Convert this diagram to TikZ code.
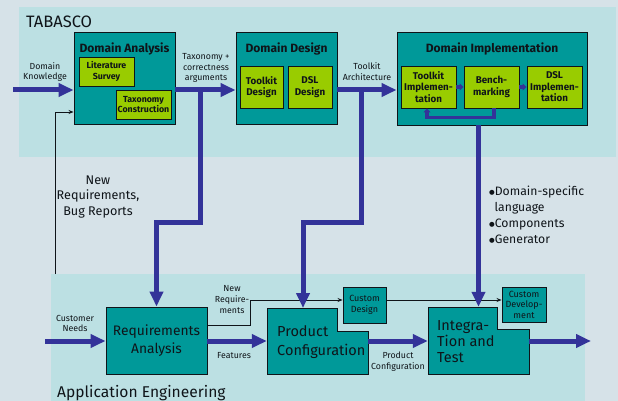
\documentclass[tikz,border=0pt]{standalone}
\usepackage{fontspec}
\setmainfont{Fira Sans}
\newfontfamily\djv{DejaVu Sans}
\usetikzlibrary{arrows.meta,calc}
\definecolor{bgc}{RGB}{214,226,232}
\definecolor{panelc}{RGB}{188,224,227}
\definecolor{tealc}{RGB}{0,153,153}
\definecolor{limec}{RGB}{153,204,0}
\definecolor{bluec}{RGB}{51,51,153}
\definecolor{inkc}{RGB}{15,20,25}
\newcommand{\bul}{\raisebox{0.6pt}{\djv\fontsize{6.5}{6.5}\selectfont●}}
\tikzset{
  tealbox/.style={draw=inkc, fill=tealc, line width=0.9pt, inner sep=0pt},
  limebox/.style={draw=inkc, fill=limec, line width=0.9pt, inner sep=0pt, align=center, text=inkc},
  bigarrow/.style={draw=bluec, line width=5pt, -{Triangle[width=13pt,length=15pt]}},
  smallarrow/.style={draw=bluec, line width=3.5pt, -{Triangle[width=7pt,length=4pt]}},
  thinarrow/.style={draw=inkc, line width=0.8pt, -{Stealth[length=5pt,width=4pt]}},
  lbl/.style={align=center, text=inkc, inner sep=0pt, font=\fontsize{8.8}{10.8}\selectfont},
  title/.style={text=inkc, inner sep=0pt, font=\bfseries\fontsize{12}{14}\selectfont},
  boxtxt/.style={font=\bfseries\fontsize{9.8}{11.5}\selectfont},
  smallboxtxt/.style={font=\bfseries\fontsize{8.8}{10.4}\selectfont},
}
\begin{document}
\begin{tikzpicture}[x=1pt,y=-1pt]
\fill[bgc] (0,0) rectangle (618,401);
\useasboundingbox (0,0) rectangle (618,401);
% panels
\fill[panelc] (19,7) rectangle (616,157);
\fill[panelc] (51,274) rectangle (585,401);
\node[anchor=west, text=inkc, inner sep=0pt, font=\fontsize{16.5}{18}\selectfont] (tabasco) at (26,22) {TABASCO};
\node[anchor=west, text=inkc, inner sep=0pt, font=\fontsize{15.6}{18}\selectfont] (appeng) at (57,393) {Application Engineering};

% Domain Analysis
\node[tealbox, minimum width=101pt, minimum height=92pt] (da) at (124.5,78) {};
\node[title] (datitle) at (124.5,49) {Domain Analysis};
\node[limebox, smallboxtxt, minimum width=55pt, minimum height=29pt] (ls) at (106.5,71.5) {Literature\\Survey};
\node[limebox, smallboxtxt, minimum width=55pt, minimum height=29pt] (tc) at (143.5,104.5) {Taxonomy\\Construction};

% Domain Design
\node[tealbox, minimum width=101pt, minimum height=92pt] (dd) at (286.5,78) {};
\node[title] (ddtitle) at (286.5,49) {Domain Design};
\node[limebox, boxtxt, minimum width=43pt, minimum height=42pt] (td) at (261.5,87) {Toolkit\\Design};
\node[limebox, boxtxt, minimum width=44pt, minimum height=42pt] (dsd) at (310,87) {DSL\\Design};

% Domain Implementation
\node[tealbox, minimum width=190pt, minimum height=93pt] (di) at (492,78.5) {};
\node[title] (dititle) at (492,49) {Domain Implementation};
\node[limebox, boxtxt, minimum width=55pt, minimum height=42pt] (ti) at (428.5,87) {Toolkit\\Implemen-\\tation};
\node[limebox, boxtxt, minimum width=55pt, minimum height=42pt] (bm) at (491.5,87) {Bench-\\marking};
\node[limebox, boxtxt, minimum width=55pt, minimum height=42pt] (dsi) at (554.5,87) {DSL\\Implemen-\\tation};
\draw[smallarrow] (ti.east) -- (bm.west);
\draw[smallarrow] (bm.east) -- (dsi.west);
\draw[smallarrow] ($(bm.south)+(2.5,0)$) -- ++(0,9) -| ($(ti.south)+(-1.5,0)$);

% Application engineering boxes
\node[tealbox, minimum width=101pt, minimum height=67pt, align=center, text=inkc,
      font=\fontsize{13.8}{18}\selectfont] (ra) at (156.5,340.5) {Requirements\\Analysis};
\node[tealbox, minimum width=43pt, minimum height=36pt, align=center, text=inkc,
      font=\fontsize{9}{11}\selectfont] (cd) at (364.5,305) {Custom\\Design};
\node[tealbox, minimum width=44pt, minimum height=35pt, align=center, text=inkc,
      font=\fontsize{9}{10.5}\selectfont] (cdev) at (524,304.5) {Custom\\Develop-\\ment};
% Product Configuration (notched)
\node[minimum width=101pt, minimum height=66pt, inner sep=0pt] (pc) at (317.5,341) {};
\filldraw[fill=tealc, draw=inkc, line width=0.9pt] (267,308) -- (337,308) -- (337,331) -- (368,331) -- (368,374) -- (267,374) -- cycle;
\node[anchor=west, align=left, text=inkc, inner sep=0pt, font=\fontsize{14.5}{19}\selectfont] (pctxt) at (277,342.5) {Product\\Configuration};
% Integration and Test (notched)
\node[minimum width=101pt, minimum height=67pt, inner sep=0pt] (it) at (478.5,340.5) {};
\filldraw[fill=tealc, draw=inkc, line width=0.9pt] (428,307) -- (497,307) -- (497,329) -- (529,329) -- (529,374) -- (428,374) -- cycle;
\node[anchor=west, align=left, text=inkc, inner sep=0pt, font=\fontsize{14.5}{16}\selectfont] (ittxt) at (437,342) {Integra-\\Tion and\\Test};

% thin connectors
\coordinate (fbstart) at (55,274);
\draw[thinarrow] (fbstart) |- ($(da.west)+(0,34)$);
\coordinate (nrstart) at ($(ra.east)+(0,-15.5)$);
\coordinate (nrbend) at (250,300);
\draw[thinarrow] (nrstart) -| (nrbend) -- (cd.west |- nrbend);
\draw[thinarrow] (cd.east |- nrbend) -- (cdev.west |- nrbend);

% big arrows
\coordinate (dkstart) at (13,90);
\draw[bigarrow] (dkstart) -- (dkstart -| da.west);
\draw[bigarrow] (da.east |- dkstart) -- (dd.west |- dkstart);
\draw[bigarrow] (dd.east |- dkstart) -- (di.west |- dkstart);
\coordinate (br1) at (200,90);
\draw[bigarrow] (br1) -- ++(0,132) -| (ra.north);
\coordinate (br2) at (361,90);
\coordinate (pctop) at (303,308);
\draw[bigarrow] (br2) -- ++(0,132) -| (pctop);
\draw[bigarrow] (di.south -| it.north) -- (it.north);
\coordinate (cnstart) at (45,341);
\draw[bigarrow] (cnstart) -- (cnstart -| ra.west);
\draw[bigarrow] (ra.east |- cnstart) -- (pc.west |- cnstart);
\draw[bigarrow] (pc.east |- cnstart) -- (it.west |- cnstart);
\coordinate (outend) at (591,341);
\draw[bigarrow] (it.east |- cnstart) -- (outend);

% labels
\node[lbl] (l1) at (45,72) {Domain\\Knowledge};
\node[lbl] (l2) at (206,68) {Taxonomy +\\correctness\\arguments};
\node[lbl] (l3) at (367,71.5) {Toolkit\\Architecture};
\node[lbl, font=\fontsize{12.6}{15.5}\selectfont] (l4) at (98,197) {New\\Requirements,\\Bug Reports};
\node[anchor=north west, align=left, text=inkc, inner sep=0pt, font=\fontsize{12.2}{16}\selectfont] (l5) at (489,185.5) {\bul Domain-specific\\\hspace*{0.45em}language\\\bul Components\\\bul Generator};
\node[lbl] (l6) at (75,323.5) {Customer\\Needs};
\node[lbl] (l7) at (234,356) {Features};
\node[lbl, font=\fontsize{8.8}{11}\selectfont] (l8) at (232,299.5) {New\\Require-\\ments};
\node[lbl] (l9) at (398,361.5) {Product\\Configuration};
\end{tikzpicture}
\end{document}
